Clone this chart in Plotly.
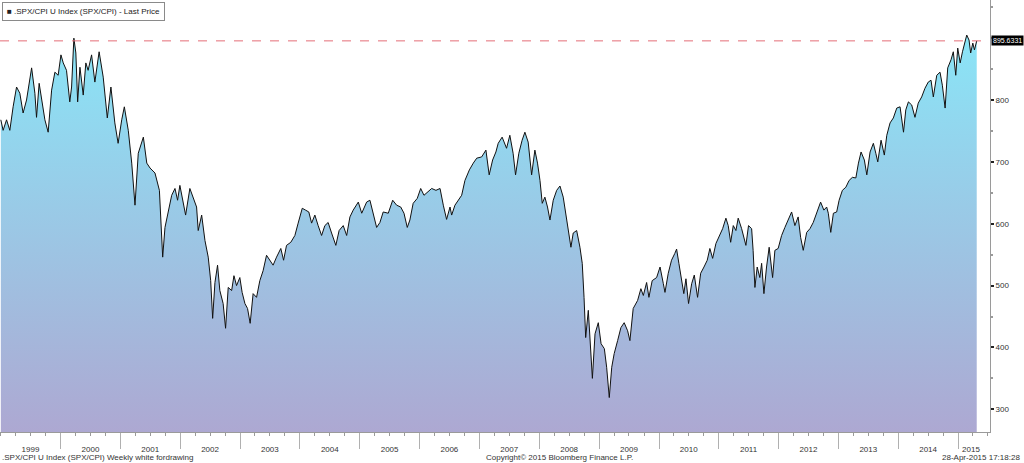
import plotly.graph_objects as go

dates = [
 "1999-01-01","1999-01-15","1999-02-05","1999-02-25","1999-03-17","1999-04-07","1999-04-27","1999-05-17","1999-06-07","1999-07-08",
 "1999-07-28","1999-08-07","1999-08-23","1999-09-07","1999-09-27","1999-10-17","1999-11-07","1999-11-27","1999-12-17",
 "2000-01-03","2000-01-17","2000-02-06","2000-02-26","2000-03-08","2000-03-22","2000-04-03","2000-04-14","2000-04-28","2000-05-18",
 "2000-06-03","2000-06-17","2000-07-08","2000-07-28","2000-08-23","2000-09-17","2000-10-12","2000-11-03","2000-11-27","2000-12-17",
 "2001-01-08","2001-01-24","2001-02-17","2001-03-10","2001-03-30","2001-04-19","2001-05-20","2001-06-10","2001-06-30","2001-07-30",
 "2001-08-26","2001-09-15","2001-09-29","2001-10-19","2001-11-09","2001-11-29","2001-12-15","2001-12-29",
 "2002-01-18","2002-02-02","2002-02-28","2002-03-20","2002-04-10","2002-04-20","2002-05-11","2002-05-31","2002-06-20","2002-07-05",
 "2002-07-17","2002-07-31","2002-08-16","2002-08-30","2002-09-19","2002-10-04","2002-10-20","2002-11-10","2002-11-24","2002-12-10","2002-12-30",
 "2003-01-13","2003-01-30","2003-02-15","2003-03-03","2003-03-21","2003-04-11","2003-05-01","2003-05-21","2003-06-11","2003-07-01",
 "2003-07-21","2003-08-11","2003-09-06","2003-09-23","2003-10-11","2003-11-06","2003-12-01","2003-12-21",
 "2004-01-15","2004-02-04","2004-02-24","2004-03-12","2004-04-01","2004-04-21","2004-05-12","2004-06-01","2004-06-21","2004-07-12",
 "2004-07-22","2004-08-07","2004-08-27","2004-09-21","2004-10-12","2004-11-01","2004-11-21","2004-12-22",
 "2005-01-12","2005-02-11","2005-03-03","2005-03-23","2005-04-13","2005-05-03","2005-05-23","2005-06-23","2005-07-20","2005-08-13",
 "2005-09-07","2005-09-27","2005-10-17","2005-11-02","2005-11-22","2005-12-17",
 "2006-01-07","2006-01-27","2006-02-16","2006-03-15","2006-04-10","2006-05-05","2006-05-25","2006-06-14","2006-07-05","2006-07-15",
 "2006-08-04","2006-08-24","2006-09-14","2006-10-04","2006-10-31","2006-11-24","2006-12-15",
 "2007-01-14","2007-02-09","2007-03-01","2007-03-22","2007-04-11","2007-04-25","2007-05-19","2007-06-15","2007-07-05","2007-07-25",
 "2007-08-09","2007-08-29","2007-09-18","2007-10-05","2007-10-25","2007-11-15","2007-12-05","2007-12-21",
 "2008-01-05","2008-01-19","2008-02-04","2008-02-20","2008-03-06","2008-03-26","2008-04-16","2008-05-06","2008-05-26","2008-06-10",
 "2008-06-26","2008-07-12","2008-07-26","2008-08-16","2008-09-05","2008-09-19","2008-09-30","2008-10-10","2008-10-26","2008-11-05",
 "2008-11-20","2008-12-06","2008-12-26",
 "2009-01-12","2009-02-01","2009-02-15","2009-03-03","2009-03-18","2009-04-02","2009-04-23","2009-05-13","2009-06-02","2009-06-23",
 "2009-07-07","2009-07-27","2009-08-23","2009-09-12","2009-09-27","2009-10-17","2009-10-31","2009-11-20","2009-12-17",
 "2010-01-07","2010-01-27","2010-02-06","2010-02-26","2010-03-18","2010-04-07","2010-04-18","2010-05-02","2010-05-18","2010-06-01",
 "2010-06-14","2010-06-30","2010-07-19","2010-08-04","2010-08-24","2010-09-12","2010-10-02","2010-10-22","2010-11-07","2010-11-24","2010-12-14",
 "2011-01-04","2011-01-24","2011-02-13","2011-02-27","2011-03-14","2011-03-30","2011-04-15","2011-04-29","2011-05-20","2011-06-15",
 "2011-07-01","2011-07-20","2011-07-29","2011-08-09","2011-08-23","2011-09-08","2011-09-19","2011-10-03","2011-10-19","2011-11-04",
 "2011-11-25","2011-12-09","2011-12-29",
 "2012-01-19","2012-02-08","2012-02-28","2012-03-20","2012-04-09","2012-04-29","2012-05-14","2012-05-30","2012-06-20","2012-07-10",
 "2012-07-30","2012-08-20","2012-09-13","2012-10-03","2012-10-20","2012-10-30","2012-11-14","2012-11-30","2012-12-20",
 "2013-01-04","2013-01-24","2013-02-14","2013-03-06","2013-03-26","2013-04-16","2013-05-02","2013-05-18","2013-06-07","2013-06-22",
 "2013-07-12","2013-08-01","2013-08-16","2013-08-28","2013-09-17","2013-10-07","2013-10-22","2013-11-11","2013-12-01","2013-12-22",
 "2014-01-11","2014-02-01","2014-02-15","2014-03-03","2014-03-23","2014-04-12","2014-05-02","2014-05-23","2014-06-12","2014-07-02",
 "2014-07-19","2014-08-02","2014-08-23","2014-09-12","2014-09-26","2014-10-13","2014-10-29","2014-11-18","2014-12-02","2014-12-17","2014-12-29",
 "2015-01-13","2015-01-27","2015-02-08","2015-02-22","2015-03-08","2015-03-18","2015-03-31","2015-04-10","2015-04-24",
]

values = [
 768,751,768,751,789,821,811,779,800,852,
 811,772,827,800,768,748,816,845,840,
 873,860,848,797,821,900,876,797,853,808,
 860,848,873,829,878,837,771,821,763,730,
 768,789,751,698,630,714,740,698,690,682,
 654,546,594,617,646,657,638,662,
 633,614,657,641,627,589,614,573,546,508,
 447,505,533,492,471,431,497,492,516,500,513,
 489,471,463,439,487,481,508,524,549,541,
 533,546,560,541,565,570,581,601,
 625,622,619,601,614,597,581,597,602,585,
 578,565,589,597,581,611,622,635,
 617,635,638,617,594,602,619,617,638,630,
 627,617,594,606,633,641,
 657,646,651,657,654,657,630,607,627,614,
 630,638,646,670,687,698,706,
 708,719,679,703,716,730,740,722,743,714,
 679,714,735,748,732,679,719,698,
 670,633,643,627,606,638,654,661,643,617,
 585,562,585,589,562,536,481,416,460,422,
 350,422,440,
 406,398,368,319,368,390,411,432,440,427,
 411,463,476,495,484,505,481,508,513,
 530,503,489,520,541,552,559,536,508,487,
 511,471,503,517,481,520,530,541,560,544,568,
 581,592,609,597,570,597,589,609,592,565,
 597,592,557,497,530,513,536,487,530,562,
 513,557,560,
 581,594,606,619,597,611,578,557,586,592,
 602,619,635,622,627,617,586,617,619,
 638,654,659,670,675,674,698,716,703,679,
 716,730,714,700,735,711,743,763,771,787,
 789,748,784,797,792,772,795,805,819,829,
 832,805,840,845,824,787,852,865,878,840,884,
 860,878,889,905,897,876,892,881,895.6331,
]

year_labels = [str(y) for y in range(1999, 2016)]
label_dates = [f"{y}-07-01" for y in range(1999, 2015)] + ["2015-03-20"]
year_bounds = [f"{y}-01-01" for y in range(2000, 2016)]
y_ticks = [300, 400, 500, 600, 700, 800]

title_text = ".SPX/CPI U Index (SPX/CPI) - Last Price"
footer_left = ".SPX/CPI U Index (SPX/CPI) Weekly white fordrawing"
footer_mid = "Copyright\u00a9 2015 Bloomberg Finance L.P."
footer_right = "28-Apr-2015 17:18:28"

FONT = "Liberation Sans Narrow, Liberation Sans, Arial, sans-serif"
last = values[-1]

fig = go.Figure()
fig.add_trace(go.Scatter(
    x=dates, y=values, mode="lines",
    line=dict(color="#111111", width=1),
    fill="tozeroy",
    fillgradient=dict(type="vertical", start=263, stop=905,
                      colorscale=[[0, "rgb(173,168,210)"], [1, "rgb(138,229,247)"]]),
    showlegend=False, hoverinfo="x+y",
))
fig.add_trace(go.Scatter(x=[None], y=[None], xaxis="x2", showlegend=False))

fig.add_shape(type="line", xref="paper", x0=0, x1=1, yref="y", y0=last, y1=last,
              line=dict(color="rgb(228,110,120)", width=1, dash="dash"), layer="above")

fig.add_annotation(xref="paper", x=1, xanchor="left", xshift=1, yref="y", y=last,
                   text=f"{last:.4f}", showarrow=False, bgcolor="black",
                   font=dict(color="white", size=7, family=FONT), borderpad=1)

fig.add_annotation(xref="paper", yref="paper", x=0, y=1, xanchor="left", yanchor="top",
                   xshift=2, yshift=-2,
                   text="\u25a0 " + title_text, showarrow=False, bgcolor="white",
                   bordercolor="#8a8a8a", borderwidth=1, borderpad=4,
                   font=dict(color="#222222", size=8, family=FONT))

for txt, xx, anc in [(footer_left, 0, "left"), (footer_mid, 0.565, "center"), (footer_right, 1.032, "right")]:
    fig.add_annotation(xref="paper", yref="paper", x=xx, y=0, xanchor=anc, yanchor="middle",
                       yshift=-25, text=txt, showarrow=False,
                       font=dict(color="#333333", size=8, family=FONT))

xr = ["1998-12-27", "2015-07-14"]
fig.update_layout(
    width=1024, height=463,
    margin=dict(l=0, r=34, t=0, b=31),
    paper_bgcolor="white", plot_bgcolor="white",
    font=dict(family=FONT, size=8, color="#333333"),
    xaxis=dict(type="date", range=xr, tickvals=label_dates, ticktext=year_labels,
               ticks="", showgrid=False, zeroline=False, showline=True,
               linecolor="#9a9a9a", linewidth=1, ticklabelstandoff=9,
               tickfont=dict(size=8, color="#333333"),
               minor=dict(ticks="outside", ticklen=3, tickcolor="#9a9a9a",
                          dtick="M3", tick0="1999-01-01", showgrid=False)),
    xaxis2=dict(type="date", range=xr, overlaying="x", anchor="y", side="bottom",
                tickvals=year_bounds, ticks="outside", ticklen=16, tickcolor="#b0b0b0",
                showticklabels=False, showgrid=False, zeroline=False, showline=False),
    yaxis=dict(side="right", range=[263.3, 961.7], tickvals=y_ticks,
               ticks="outside", ticklen=3, tickcolor="#222222", tickwidth=2,
               showgrid=False, zeroline=False, showline=True, linecolor="#9a9a9a",
               linewidth=1, tickfont=dict(size=8, color="#333333"),
               minor=dict(ticks="outside", ticklen=2, tickcolor="#9a9a9a", dtick=50,
                          tick0=0, showgrid=False)),
)

fig.write_html("out.html")
